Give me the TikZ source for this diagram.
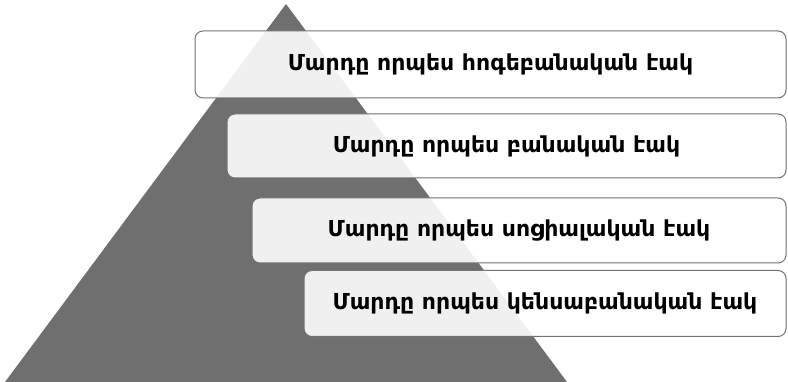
\documentclass[tikz,border=0pt]{standalone}
\usepackage{fontspec}
\newfontfamily\armfont{DejaVu Sans}
\usepackage{tikz}
\definecolor{pyrgray}{HTML}{6F6F6F}
\definecolor{boxgray}{HTML}{727272}
\begin{document}
\begin{tikzpicture}[x=1pt,y=-1pt,line join=round,
  level/.style={draw=boxgray,line width=1pt,fill=white,fill opacity=0.9,text opacity=1,
    rounded corners=8pt,inner sep=0pt,font=\armfont\bfseries\fontsize{22}{26}\selectfont}]
  \useasboundingbox (0,0) rectangle (788,382);
  % pyramid behind the levels
  \fill[pyrgray] (5,382) -- (286,4) -- (567,382) -- cycle;
  % levels, top to bottom
  \node[level,minimum width=591pt,minimum height=67pt] (psych) at (490.5,64.5) {Մարդը որպես հոգեբանական էակ};
  \node[level,minimum width=559pt,minimum height=64pt] (reason) at (506.5,146) {Մարդը որպես բանական էակ};
  \node[level,minimum width=534pt,minimum height=65pt] (social) at (519,230.5) {Մարդը որպես սոցիալական էակ};
  \node[level,minimum width=482pt,minimum height=66pt] (bio) at (545,303.5) {Մարդը որպես կենսաբանական էակ};
\end{tikzpicture}
\end{document}
